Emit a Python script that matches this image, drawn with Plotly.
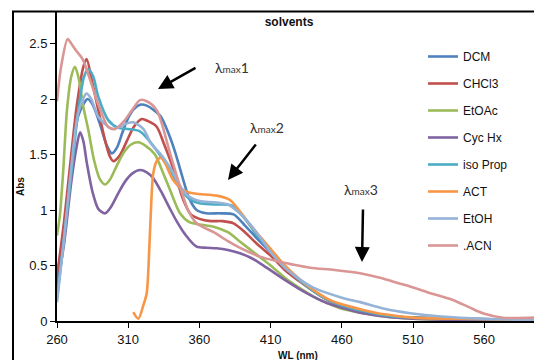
import plotly.graph_objects as go

# ---------------- data ----------------
names = ["DCM", "CHCl3", "EtOAc", "Cyc Hx", "iso Prop", "ACT", "EtOH", ".ACN"]
colors = ["#4F81BD", "#C0504D", "#9BBB59", "#8064A2", "#4BACC6", "#F79646", "#95B3D7", "#D99694"]

dcm_x = [260, 265, 270, 275, 281.5, 285, 290, 295, 298.5, 302, 306, 310, 314, 319, 323, 328, 333, 338, 343, 348, 353, 358, 365, 375, 384, 392, 400, 410, 420, 430, 440, 450, 460, 475, 490, 510, 540, 595]
dcm_y = [0.38, 0.85, 1.42, 1.85, 2.0, 1.95, 1.78, 1.58, 1.51, 1.56, 1.7, 1.83, 1.91, 1.95, 1.94, 1.9, 1.84, 1.7, 1.52, 1.3, 1.1, 1.0, 0.97, 0.97, 0.96, 0.86, 0.75, 0.62, 0.48, 0.37, 0.27, 0.19, 0.14, 0.09, 0.05, 0.03, 0.02, 0.01]

chcl3_x = [260, 265, 270, 274, 278.5, 280.8, 284.4, 289, 293.7, 297.2, 299.6, 304, 309, 314, 319.5, 324, 330, 335, 339.5, 344, 348.7, 354, 360, 368, 376, 384, 392, 400, 410, 420, 430, 440, 450, 460, 475, 490, 510, 540, 595]
chcl3_y = [0.4, 0.9, 1.5, 1.95, 2.29, 2.36, 2.17, 1.9, 1.63, 1.48, 1.44, 1.49, 1.62, 1.75, 1.82, 1.8, 1.75, 1.6, 1.45, 1.28, 1.09, 0.96, 0.92, 0.9, 0.9, 0.88, 0.8, 0.7, 0.59, 0.46, 0.36, 0.27, 0.19, 0.14, 0.09, 0.05, 0.03, 0.02, 0.01]

etoac_x = [260, 262, 264.4, 267, 270, 272.6, 275, 278.5, 282, 286, 290, 293.7, 297, 302, 307, 312, 317, 322, 328.8, 334, 339.4, 346.4, 353, 360, 370, 380, 390, 400, 410, 420, 430, 440, 450, 460, 475, 490, 510, 540, 595]
etoac_y = [0.77, 0.95, 1.36, 1.9, 2.2, 2.29, 2.2, 1.93, 1.72, 1.45, 1.28, 1.23, 1.27, 1.4, 1.52, 1.59, 1.61, 1.58, 1.5, 1.35, 1.18, 0.97, 0.89, 0.87, 0.85, 0.8, 0.7, 0.6, 0.5, 0.39, 0.3, 0.22, 0.16, 0.11, 0.07, 0.04, 0.02, 0.01, 0.01]

cychx_x = [260, 265, 270, 273.5, 276.2, 278.5, 281, 285, 289, 293.7, 298, 303, 308, 313, 318.3, 323, 327.4, 333, 339, 344, 350, 358, 365, 372, 380, 388.5, 396, 402.6, 409.6, 420, 430, 440, 450, 460, 475, 490, 510, 540, 595]
cychx_y = [0.3, 0.7, 1.25, 1.55, 1.7, 1.62, 1.42, 1.16, 1.01, 0.97, 1.03, 1.15, 1.26, 1.33, 1.36, 1.34, 1.29, 1.17, 1.02, 0.9, 0.78, 0.67, 0.66, 0.655, 0.64, 0.61, 0.57, 0.52, 0.46, 0.37, 0.29, 0.22, 0.16, 0.12, 0.07, 0.04, 0.02, 0.01, 0.01]

isoprop_x = [260, 265, 270.3, 275, 279, 282, 285.5, 289, 296, 303, 310, 318, 325, 332, 339.4, 346, 353, 360, 370, 383, 392, 400, 410, 420, 430, 440, 450, 460, 475, 490, 510, 540, 595]
isoprop_y = [0.2, 0.75, 1.36, 1.9, 2.2, 2.27, 2.2, 2.02, 1.81, 1.74, 1.73, 1.71, 1.62, 1.5, 1.36, 1.2, 1.1, 1.06, 1.05, 1.04, 0.92, 0.78, 0.64, 0.49, 0.37, 0.27, 0.19, 0.14, 0.09, 0.05, 0.03, 0.02, 0.01]

act_x = [313.6, 317.1, 320.6, 323, 324.3, 325.8, 327.6, 330, 333, 336, 341.6, 348.7, 355.7, 364, 372, 381.5, 393, 402.6, 410, 420, 430, 440, 450, 460, 475, 490, 510, 540, 595]
act_y = [0.08, 0.02, 0.14, 0.25, 0.5, 0.95, 1.33, 1.44, 1.47, 1.42, 1.27, 1.18, 1.15, 1.14, 1.13, 1.09, 0.91, 0.76, 0.65, 0.5, 0.38, 0.28, 0.2, 0.15, 0.1, 0.06, 0.03, 0.02, 0.01]

etoh_x = [260, 265, 270, 275, 280.8, 284, 289, 296, 299.6, 304, 309, 313.6, 320.6, 326, 333, 340, 350, 360, 370, 380, 390, 400, 410, 420, 430, 440, 460, 473, 490, 508, 530, 560, 595]
etoh_y = [0.17, 0.75, 1.38, 1.88, 2.05, 2.0, 1.84, 1.75, 1.73, 1.75, 1.78, 1.79, 1.73, 1.6, 1.5, 1.37, 1.15, 1.08, 1.07, 1.05, 0.95, 0.8, 0.62, 0.48, 0.38, 0.3, 0.21, 0.17, 0.11, 0.07, 0.04, 0.02, 0.01]

acn_x = [260, 263, 267.5, 270, 273.8, 278, 281.8, 288.8, 295.8, 300.7, 307, 312.7, 318.3, 323, 330, 339.4, 346.4, 352, 358, 370, 380, 390, 402.6, 414, 425, 437.7, 455, 472.8, 486.8, 500, 508, 520, 538, 550, 559, 573, 595]
acn_y = [1.98, 2.3, 2.54, 2.5, 2.43, 2.36, 2.23, 1.96, 1.75, 1.73, 1.8, 1.9, 1.99, 1.98, 1.9, 1.51, 1.21, 1.0, 0.88, 0.8, 0.72, 0.65, 0.58, 0.54, 0.51, 0.48, 0.46, 0.43, 0.39, 0.34, 0.31, 0.26, 0.19, 0.12, 0.07, 0.03, 0.03]

series_x = [dcm_x, chcl3_x, etoac_x, cychx_x, isoprop_x, act_x, etoh_x, acn_x]
series_y = [dcm_y, chcl3_y, etoac_y, cychx_y, isoprop_y, act_y, etoh_y, acn_y]

x_ticks = [260, 310, 360, 410, 460, 510, 560]
y_ticks = [0, 0.5, 1, 1.5, 2, 2.5]

# ---------------- figure ----------------
fig = go.Figure()
for i, (nm, c) in enumerate(zip(names, colors)):
    fig.add_trace(go.Scatter(
        x=series_x[i], y=series_y[i], name=nm, mode="lines",
        line=dict(color=c, width=2.6, shape="spline", smoothing=0.8),
        legendgroup=nm,
    ))

FONT = "Liberation Sans, Arial, sans-serif"
L, R, T, B = 57, 0, 12, 39
W, H = 534, 360
pw, ph = W - L - R, H - T - B

def px(xp):
    return (xp - L) / pw

def py(yp):
    return (H - B - yp) / ph

fig.update_layout(
    width=W, height=H,
    margin=dict(l=L, r=R, t=T, b=B, pad=0),
    paper_bgcolor="white", plot_bgcolor="white",
    font=dict(family=FONT, color="#111", size=13),
    showlegend=True,
    legend=dict(x=px(423), y=py(42), xanchor="left", yanchor="top",
                font=dict(size=12, family=FONT, color="#111"),
                tracegroupgap=8, bgcolor="rgba(0,0,0,0)", itemwidth=30),
    title=dict(text="<b>solvents</b>", x=px(289), xref="paper", xanchor="center",
               y=1 - 22 / H, yanchor="middle",
               font=dict(size=12, family=FONT, color="#111")),
)

fig.update_xaxes(range=[260, 260 + pw / 1.424], tickvals=x_ticks, showgrid=False, zeroline=False,
                 showline=True, linecolor="black", linewidth=2,
                 ticks="outside", ticklen=5, tickcolor="black", tickwidth=1,
                 tickfont=dict(size=13, family=FONT, color="#111"))
fig.update_yaxes(range=[0, ph / 111.0], tickvals=y_ticks, ticktext=["0", "0.5", "1", "1.5", "2", "2.5"],
                 showgrid=False, zeroline=False,
                 showline=True, linecolor="black", linewidth=2,
                 ticks="outside", ticklen=5, tickcolor="black", tickwidth=1,
                 tickfont=dict(size=13, family=FONT, color="#111"))

# outer chart-area border (cropped at right/bottom)
fig.add_shape(type="rect", xref="paper", yref="paper",
              x0=px(13), x1=px(600), y0=py(400), y1=py(11.5),
              line=dict(color="black", width=2), layer="above")

# axis titles
fig.add_annotation(text="<b>WL (nm)</b>", xref="paper", yref="paper", x=px(298), y=py(355),
                   showarrow=False, font=dict(size=10, family=FONT, color="#111"),
                   xanchor="center", yanchor="middle")
fig.add_annotation(text="<b>Abs</b>", xref="paper", yref="paper", x=px(20), y=py(187),
                   showarrow=False, textangle=-90, font=dict(size=10, family=FONT, color="#111"),
                   xanchor="center", yanchor="middle")

# lambda max labels + arrows
LFONT = "Lato, Open Sans, sans-serif"
lam = "λ<span style='font-size:10px'>max</span>{}"
labels = [(1, 232, 68), (2, 267, 127), (3, 361, 189)]
for n, xp, yp in labels:
    fig.add_annotation(text=lam.format(n), xref="paper", yref="paper", x=px(xp), y=py(yp),
                       showarrow=False, font=dict(size=14, family=LFONT, color="#333"),
                       xanchor="center", yanchor="middle")

def to_data(xp, yp):
    return 260 + (xp - L) / 1.424, (H - B - yp) / 111.0

arrows = [((158, 89), (197, 67)), ((228, 180), (257, 143)), ((362, 262), (363, 208))]
for (tx, ty), (sx, sy) in arrows:
    dx, dy = to_data(tx, ty)
    fig.add_annotation(x=dx, y=dy, xref="x", yref="y", ax=sx - tx, ay=sy - ty,
                       showarrow=True, arrowhead=2, arrowsize=1.2, arrowwidth=2.5,
                       arrowcolor="black", text="")

fig.write_html("out.html")
